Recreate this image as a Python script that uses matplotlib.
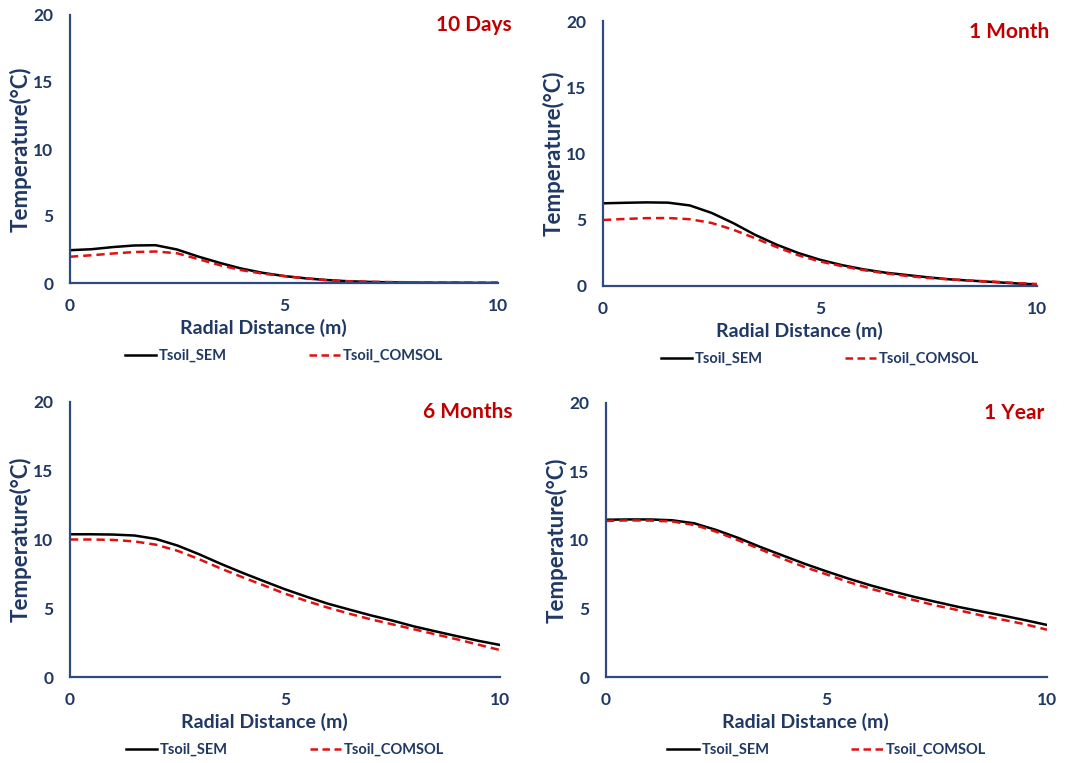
import matplotlib
matplotlib.use("Agg")
import matplotlib.pyplot as plt
from matplotlib.lines import Line2D

plt.rcParams['font.family'] = ['Lato', 'DejaVu Sans']

# ---------------- data ----------------
r = [0, 0.5, 1, 1.5, 2, 2.5, 3, 3.5, 4, 4.5, 5, 5.5, 6, 6.5, 7, 7.5, 8, 8.5, 9, 9.5, 10]

sem_10d = [2.45, 2.52, 2.68, 2.8, 2.82, 2.5, 1.97, 1.5, 1.08, 0.76, 0.52, 0.35, 0.22, 0.13, 0.08, 0.05, 0.03, 0.02, 0.02, 0.01, 0.01]
com_10d = [1.96, 2.07, 2.2, 2.31, 2.35, 2.22, 1.78, 1.33, 0.96, 0.7, 0.52, 0.35, 0.21, 0.13, 0.09, 0.07, 0.05, 0.04, 0.04, 0.03, 0.03]

sem_1m = [6.24, 6.28, 6.31, 6.29, 6.08, 5.52, 4.75, 3.87, 3.12, 2.49, 1.98, 1.58, 1.26, 1.01, 0.83, 0.65, 0.5, 0.4, 0.3, 0.2, 0.12]
com_1m = [4.98, 5.06, 5.12, 5.13, 5.04, 4.76, 4.25, 3.61, 2.94, 2.32, 1.85, 1.5, 1.2, 0.96, 0.76, 0.6, 0.5, 0.4, 0.33, 0.23, 0.15]

sem_6m = [10.38, 10.38, 10.36, 10.29, 10.04, 9.56, 8.93, 8.24, 7.59, 6.98, 6.38, 5.84, 5.33, 4.9, 4.48, 4.1, 3.68, 3.32, 2.97, 2.63, 2.33]
com_6m = [10.0, 10.0, 9.97, 9.86, 9.62, 9.18, 8.57, 7.9, 7.27, 6.67, 6.06, 5.53, 5.04, 4.6, 4.19, 3.83, 3.47, 3.1, 2.74, 2.35, 1.96]

sem_1y = [11.48, 11.5, 11.5, 11.44, 11.22, 10.73, 10.15, 9.49, 8.88, 8.27, 7.71, 7.18, 6.69, 6.25, 5.84, 5.47, 5.11, 4.79, 4.48, 4.15, 3.8]
com_1y = [11.39, 11.43, 11.42, 11.35, 11.1, 10.6, 9.98, 9.32, 8.64, 8.03, 7.49, 6.93, 6.45, 6.0, 5.6, 5.2, 4.87, 4.5, 4.18, 3.85, 3.45]

titles = ["10 Days", "1 Month", "6 Months", "1 Year"]
sem_series = [sem_10d, sem_1m, sem_6m, sem_1y]
com_series = [com_10d, com_1m, com_6m, com_1y]

x_ticks = [0, 5, 10]
y_ticks = [0, 5, 10, 15, 20]
x_label = "Radial Distance (m)"
y_label = "Temperature(°C)"
legend_labels = ["Tsoil_SEM", "Tsoil_COMSOL"]

# ---------------- layout ----------------
W, H = 1072, 763
fig = plt.figure(figsize=(W / 100, H / 100), dpi=100)

# axes boxes in pixels: left, top, right, bottom
boxes = [(70, 15, 498, 283), (603, 21, 1037, 286), (70, 402, 500, 677), (606, 403, 1047, 677)]
title_pos = [(1.033, 0.963), (1.028, 0.958), (1.030, 0.964), (0.993, 0.963)]

NAVY = '#1F3864'
SPINE = '#2F4A7E'
RED_T = '#C00000'
RED_L = '#E01010'

for i, (l, t, rr, b) in enumerate(boxes):
    ax = fig.add_axes([l / W, 1 - b / H, (rr - l) / W, (b - t) / H])
    ax.plot(r, sem_series[i], color='black', lw=1.8, solid_joinstyle='round')
    ax.plot(r, com_series[i], color=RED_L, lw=1.8, ls=(0, (3.3, 2.0)), dash_joinstyle='round')
    ax.set_xlim(0, 10)
    ax.set_ylim(0, 20)
    ax.set_xticks(x_ticks)
    ax.set_yticks(y_ticks)
    for s in ['top', 'right']:
        ax.spines[s].set_visible(False)
    for s in ['left', 'bottom']:
        ax.spines[s].set_color(SPINE)
        ax.spines[s].set_linewidth(1.6)
    ax.tick_params(axis='both', length=0, labelsize=12.5, labelcolor=NAVY)
    ax.tick_params(axis='x', pad=11)
    ax.tick_params(axis='y', pad=12)
    for lab in ax.get_xticklabels() + ax.get_yticklabels():
        lab.set_fontweight('bold')
    ax.set_xlabel(x_label, fontsize=14, fontweight='bold', color=NAVY)
    ax.set_ylabel(y_label, fontsize=16, fontweight='bold', color=NAVY)
    hpx = b - t
    wpx = rr - l
    ax.xaxis.set_label_coords(0.452, -36 / hpx)
    ax.yaxis.set_label_coords(-38 / wpx, 0.5)
    ax.text(title_pos[i][0], title_pos[i][1], titles[i], transform=ax.transAxes,
            ha='right', va='center', fontsize=15, fontweight='bold', color=RED_T)
    handles = [Line2D([], [], color='black', lw=1.8),
               Line2D([], [], color=RED_L, lw=1.8, ls=(0, (3.0, 1.8)))]
    leg = ax.legend(handles, legend_labels, loc='center', bbox_to_anchor=(0.5, -73 / hpx),
                    ncol=2, frameon=False, handlelength=2.15, handletextpad=0.2,
                    columnspacing=5.6, prop={'size': 10.5, 'weight': 'bold'})
    for txt in leg.get_texts():
        txt.set_color(NAVY)

fig.savefig('out.png', dpi=100, facecolor='white')
